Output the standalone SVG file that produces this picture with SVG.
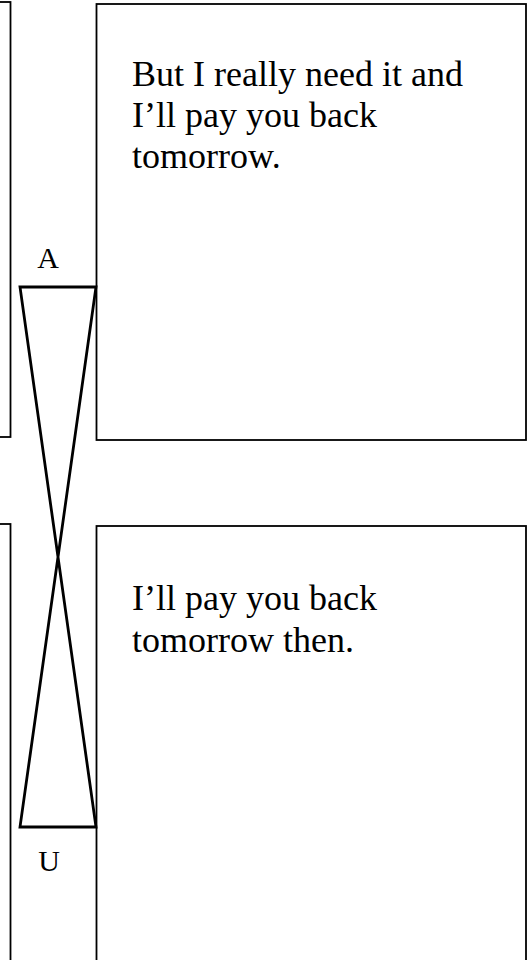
<svg xmlns="http://www.w3.org/2000/svg" width="527" height="960" viewBox="0 0 527 960">
<style>
.box{fill:none;stroke:#000;stroke-width:1.8}
.hg{fill:none;stroke:#000;stroke-width:2.8;stroke-linejoin:miter}
.t{font-family:"Liberation Serif","Times New Roman",serif;font-size:36px;fill:#000}
.lbl{font-family:"Liberation Serif","Times New Roman",serif;font-size:30px;fill:#000;text-anchor:middle}
</style>
<rect width="527" height="960" fill="#fff"/>
<g id="left-top"><rect class="box" x="-20" y="2" width="30.5" height="435"/></g>
<g id="left-bottom"><rect class="box" x="-20" y="524" width="30.5" height="460"/></g>
<g id="right-top"><rect class="box" x="96.5" y="4" width="429.5" height="436"/>
<text class="t" x="132" y="86">But I really need it and</text>
<text class="t" x="132" y="127">I’ll pay you back</text>
<text class="t" x="132" y="168">tomorrow.</text>
</g>
<g id="right-bottom"><rect class="box" x="96.5" y="526" width="429.5" height="460"/>
<text class="t" x="132" y="610">I’ll pay you back</text>
<text class="t" x="132" y="652">tomorrow then.</text>
</g>
<g id="label-A"><text class="lbl" x="48" y="268">A</text></g>
<g id="label-U"><text class="lbl" x="49" y="871">U</text></g>
<g id="connectors">
<path class="hg" d="M20,287 L96,287 L20,827 L96,827 Z"/>
</g>
</svg>
